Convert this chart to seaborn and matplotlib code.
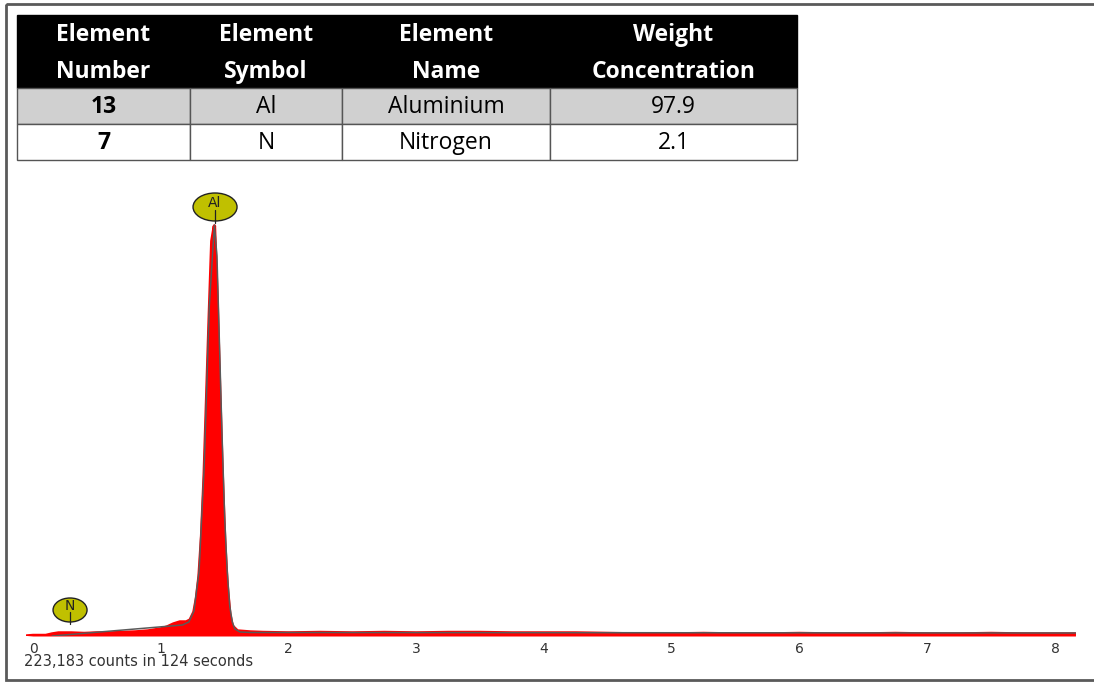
import numpy as np
import pandas as pd
import seaborn as sns
from matplotlib import pyplot as plt
from matplotlib.patches import Rectangle, Ellipse

# table data
headers = ['Element\nNumber', 'Element\nSymbol', 'Element\nName', 'Weight\nConcentration']
el_number = ['13', '7']
el_symbol = ['Al', 'N']
el_name = ['Aluminium', 'Nitrogen']
weight_conc = ['97.9', '2.1']

# spectrum (energy keV, intensity)
energy = [-0.05, 0.0, 0.1, 0.15, 0.2, 0.3, 0.4, 0.5, 0.6, 0.7, 0.8, 0.9, 1.0, 1.05,
          1.1, 1.15, 1.2, 1.23, 1.26, 1.28, 1.30, 1.32, 1.34, 1.36, 1.38, 1.40, 1.42,
          1.44, 1.46, 1.48, 1.50, 1.52, 1.54, 1.56, 1.6, 1.7, 1.8, 2.0, 2.25, 2.5, 2.75,
          3.0, 3.25, 3.5, 3.75, 4.0, 4.25, 4.5, 4.75, 5.0, 5.25, 5.5, 5.75, 6.0, 6.25,
          6.5, 6.75, 7.0, 7.25, 7.5, 7.75, 8.0, 8.16]
intensity = [0, 0.5, 0.5, 2, 3, 3, 2.5, 3, 3, 3.5, 4, 5, 7, 9,
             12, 14, 14, 16, 24, 38, 60, 100, 160, 240, 320, 395, 410,
             340, 250, 165, 95, 50, 22, 10, 5, 4, 3.5, 3, 3.5, 3, 3.5,
             3, 3.5, 3.5, 3, 3, 3, 2.5, 2, 2, 2.5, 2, 2, 2.5, 2,
             2, 2.5, 2, 2, 2.5, 2, 2, 2]

# gray fitted envelope
fit_energy = [0.15, 1.17, 1.22, 1.26, 1.30, 1.34, 1.38, 1.42, 1.44, 1.46, 1.48, 1.50,
              1.52, 1.54, 1.56, 1.58, 1.62, 1.7, 2.0, 8.16]
fit_intensity = [0, 11, 14, 25, 65, 170, 330, 411, 380, 290, 200, 120,
                 65, 30, 14, 7, 4, 3.5, 3.5, 3]

# peak labels
peak_labels = ['Al', 'N']
peak_energy = [1.425, 0.29]

sns.set_style('white')
plt.rcParams['font.family'] = ['DejaVu Sans']

fig = plt.figure(figsize=(10.94, 6.82), dpi=100)

# overlay in pixel coords for table + frame
bg = fig.add_axes([0, 0, 1, 1])
bg.set_xlim(0, 1094)
bg.set_ylim(682, 0)
bg.axis('off')
bg.add_patch(Rectangle((6, 4), 1100, 676, fill=False, ec='#5a5a5a', lw=2))

col_x = [17, 190, 342, 550, 797]
row_y = [15, 88, 124, 160]
bg.add_patch(Rectangle((col_x[0], row_y[0]), col_x[-1] - col_x[0], row_y[1] - row_y[0],
                       fc='black', ec='black', lw=1))
for j, h in enumerate(headers):
    cx = (col_x[j] + col_x[j + 1]) / 2
    bg.text(cx, (row_y[0] + row_y[1]) / 2 + 2, h, color='white', ha='center', va='center',
            fontsize=16.5, fontweight='bold', family='Open Sans', linespacing=1.75)

rows = list(zip(el_number, el_symbol, el_name, weight_conc))
row_bg = ['#d0d0d0', 'white']
for i, row in enumerate(rows):
    y0, y1 = row_y[i + 1], row_y[i + 2]
    for j, val in enumerate(row):
        bg.add_patch(Rectangle((col_x[j], y0), col_x[j + 1] - col_x[j], y1 - y0,
                               fc=row_bg[i], ec='#555555', lw=1))
        bg.text((col_x[j] + col_x[j + 1]) / 2, (y0 + y1) / 2 + 1, val, ha='center', va='center',
                fontsize=16.5, family='Open Sans', color='black',
                fontweight='bold' if j == 0 else 'normal')

bg.text(24, 662, '223,183 counts in 124 seconds', fontsize=10.5, color='#333333', va='center')

# spectrum axes
px_per_kev = 127.75
ax = fig.add_axes([26 / 1094, 1 - 636 / 682, 1050 / 1094, 446 / 682], facecolor='none')
df = pd.DataFrame({'energy': energy, 'intensity': intensity})
df_fit = pd.DataFrame({'energy': fit_energy, 'intensity': fit_intensity})

ax.fill_between(df['energy'], df['intensity'], color='#ff0000', lw=0)
sns.lineplot(data=df, x='energy', y='intensity', ax=ax, color='#ff0000', lw=2.5)
sns.lineplot(data=df_fit, x='energy', y='intensity', ax=ax, color='#5a5a5a', lw=1.1)

ax.set_xlim((26 - 33) / px_per_kev, (1076 - 33) / px_per_kev)
ax.set_ylim(0, 446)
ax.set_xticks(range(0, 9))
ax.tick_params(axis='x', length=0, pad=4, labelsize=10, labelcolor='#333333')
ax.set_yticks([])
ax.set_xlabel('')
ax.set_ylabel('')
sns.despine(ax=ax, left=True, bottom=True)

# element markers
ell_y = [429, 26]
ell_w = [44, 34]
ell_h = [28, 24]
for lab, e, yy, w, hh in zip(peak_labels, peak_energy, ell_y, ell_w, ell_h):
    ax.add_patch(Ellipse((e, yy), w / px_per_kev, hh, fc='#c0c000', ec='#222222', lw=1,
                         zorder=5, clip_on=False))
    ax.plot([e, e], [yy - hh * 0.1, yy - hh / 2 - 2], color='#222222', lw=0.9, zorder=6,
            clip_on=False)
    ax.text(e, yy + hh * 0.15, lab, ha='center', va='center', fontsize=10,
            color='#222222', zorder=7, clip_on=False)

fig.savefig('out.png', dpi=100)
